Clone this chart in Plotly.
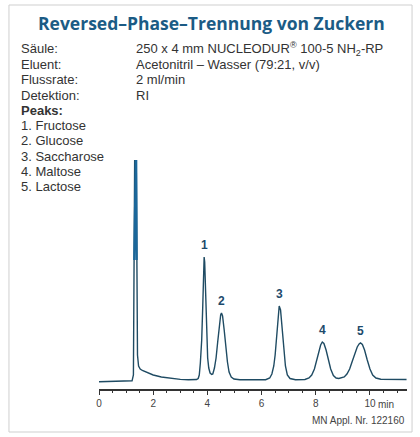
import plotly.graph_objects as go

W, H = 420, 437

# chromatogram trace (time in min, signal in arbitrary units)
time_min = [
    0.00, 0.50, 1.00, 1.22, 1.27, 1.30, 1.32, 1.37, 1.39, 1.42, 1.46, 1.52, 1.60,
    1.80, 2.00, 2.30, 2.60, 3.00, 3.30, 3.60, 3.66, 3.70, 3.74, 3.79, 3.83, 3.86,
    3.88, 3.90, 3.93, 3.97, 4.01, 4.05, 4.10, 4.16, 4.20, 4.26, 4.32, 4.38, 4.44,
    4.49, 4.52, 4.56, 4.62, 4.68, 4.74, 4.80, 4.88, 4.98, 5.20, 6.15, 6.30, 6.38,
    6.45, 6.50, 6.55, 6.60, 6.65, 6.70, 6.76, 6.82, 6.88, 6.95, 7.05, 7.25, 7.60,
    7.75, 7.85, 7.95, 8.05, 8.12, 8.18, 8.24, 8.30, 8.38, 8.46, 8.55, 8.65, 8.75,
    8.85, 8.95, 9.05, 9.15, 9.25, 9.35, 9.45, 9.53, 9.60, 9.65, 9.72, 9.80, 9.90,
    10.00, 10.10, 10.22, 10.40, 10.80, 11.35,
]
signal = [
    -1.8, -1.5, -1.2, -0.8, 5, 120, 240, 240, 120, 25, 14, 11, 9.5,
    7, 5, 3, 1.8, 0.6, 0.3, 0.5, 1.5, 5, 17, 40, 75, 110,
    123, 118, 90, 50, 22, 12, 7, 5.5, 6, 12, 22, 38, 55,
    65, 67, 64, 50, 33, 18, 8, 3, 1, 0.3, 0.3, 2, 6,
    14, 25, 42, 62, 74, 70, 52, 30, 14, 5, 1.5, 0.3, 0.5,
    2, 5, 11, 21, 29, 35, 38, 36.5, 30, 21, 11, 4.5, 2,
    1.5, 2, 3, 6, 11, 19, 27, 33, 36, 37, 35.5, 30, 20,
    11, 5, 2, 0.8, 0.5, 0.5,
]

# peak labels
peak_labels = ["1", "2", "3", "4", "5"]
peak_times = [3.88, 4.52, 6.65, 8.24, 9.65]
peak_heights = [123, 67, 74, 38, 37]

tick_vals = [0, 2, 4, 6, 8, 10]
tick_text = ["0", "2", "4", "6", "8", "10"]

info_keys = ["Säule:", "Eluent:", "Flussrate:", "Detektion:"]
info_values = [
    "250 x 4 mm NUCLEODUR<sup>®</sup> 100-5 NH<sub>2</sub>-RP",
    "Acetonitril – Wasser (79:21, v/v)",
    "2 ml/min",
    "RI",
]
peak_names = ["1. Fructose", "2. Glucose", "3. Saccharose", "4. Maltose", "5. Lactose"]


def py(px_y):
    """pixel row -> paper y"""
    return 1 - px_y / H


def pxx(px_x):
    return px_x / W


LINE = "#1f4b63"
TEXT = "#333333"
FONT = "Liberation Sans"

fig = go.Figure()
fig.add_trace(go.Scatter(
    x=time_min, y=signal, mode="lines",
    line=dict(color=LINE, width=1.4),
    hoverinfo="skip", showlegend=False,
))
# the clipped void peak is printed heavier and bluer in the original
fig.add_trace(go.Scatter(
    x=time_min[5:9], y=signal[5:9], mode="lines",
    line=dict(color="#1b679a", width=2.2),
    hoverinfo="skip", showlegend=False,
))

annotations = []
for lab, t, h in zip(peak_labels, peak_times, peak_heights):
    annotations.append(dict(
        x=t, y=h, xref="x", yref="y", text=f"<b>{lab}</b>", showarrow=False,
        yanchor="bottom", yshift=3,
        font=dict(family=FONT, size=12, color="#1d4a6b"),
    ))

annotations.append(dict(
    x=0.5, y=py(23), xref="paper", yref="paper", showarrow=False,
    text="<b>Reversed–Phase–Trennung von Zuckern</b>",
    font=dict(family="Open Sans", size=17.5, color="#1b5b85"),
    xanchor="center", yanchor="middle",
))


def side_text(x, y, text):
    return dict(x=pxx(x), y=py(y), xref="paper", yref="paper", text=text,
                showarrow=False, xanchor="left", yanchor="middle",
                font=dict(family=FONT, size=13, color=TEXT))


rows = [49, 64.5, 80, 95.5]
for k, v, r in zip(info_keys, info_values, rows):
    annotations.append(side_text(16, r, k))
    annotations.append(side_text(132, r, v))

annotations.append(side_text(16, 111, "<b>Peaks:</b>"))
for name, r in zip(peak_names, [126, 141, 156.5, 171.5, 186.5]):
    annotations.append(side_text(16, r, name))

annotations.append(dict(x=10, y=py(404), xref="x", yref="paper", text="min",
                        showarrow=False, xanchor="left", yanchor="middle", xshift=6,
                        font=dict(family=FONT, size=10, color="#444444")))
annotations.append(dict(x=pxx(407), y=py(420), xref="paper", yref="paper",
                        text="MN Appl. Nr. 122160", showarrow=False,
                        xanchor="right", yanchor="middle",
                        font=dict(family=FONT, size=10, color="#444444")))

fig.update_layout(
    width=W, height=H,
    margin=dict(l=0, r=0, t=0, b=0),
    paper_bgcolor="white", plot_bgcolor="white",
    annotations=annotations,
    shapes=[dict(type="rect", xref="paper", yref="paper",
                 x0=pxx(6), x1=pxx(412), y0=py(432), y1=py(5),
                 line=dict(color="#cfcfcf", width=1))],
    xaxis=dict(
        domain=[pxx(96.7), pxx(407)], range=[0, 11.37],
        showgrid=False, zeroline=False, showline=True, linecolor="#333333", linewidth=1.5,
        tickvals=tick_vals, ticktext=tick_text, ticks="outside", ticklen=5,
        tickcolor="#333333", tickwidth=1,
        tickfont=dict(family=FONT, size=10, color="#444444"),
        minor=dict(dtick=0.5, ticks="outside", ticklen=3, tickcolor="#333333"),
        fixedrange=True,
    ),
    yaxis=dict(
        domain=[py(388.5), py(160)], range=[-8.5, 220],
        visible=False, fixedrange=True,
    ),
)

fig.write_html("out.html", config={"displayModeBar": False},
               post_script="document.body.style.margin='0';")
